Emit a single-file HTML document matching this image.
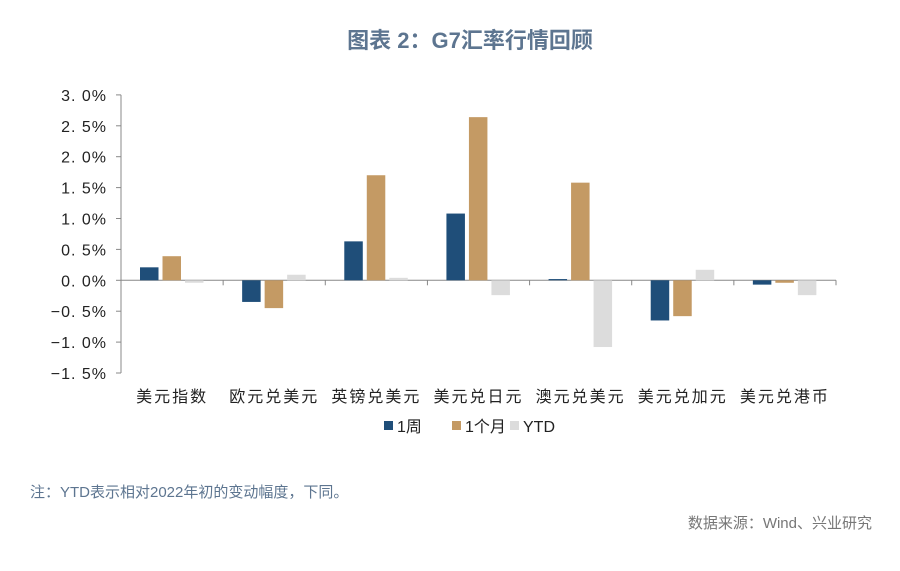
<!DOCTYPE html>
<html><head><meta charset="utf-8"><style>
body{margin:0;background:#fff;width:900px;height:566px;overflow:hidden;font-family:"Liberation Sans","Noto Sans CJK SC",sans-serif}
svg text{font-family:"Liberation Sans","Noto Sans CJK SC",sans-serif}
</style></head><body>
<svg width="900" height="566">
<text x="470" y="48" text-anchor="middle" font-size="22" font-weight="bold" fill="#5d7590">图表 2：G7汇率行情回顾</text>
<g id="plot"></g>
<text x="30" y="497" font-size="15" fill="#5d7590">注：YTD表示相对2022年初的变动幅度，下同。</text>
<text x="872" y="528" text-anchor="end" font-size="15" fill="#777">数据来源：Wind、兴业研究</text>
</svg>
<script>
const categories=["美元指数","欧元兑美元","英镑兑美元","美元兑日元","澳元兑美元","美元兑加元","美元兑港币"];
const week=[0.21,-0.35,0.63,1.08,0.02,-0.65,-0.07];
const month=[0.39,-0.45,1.70,2.64,1.58,-0.58,-0.04];
const ytd=[-0.04,0.09,0.04,-0.24,-1.08,0.17,-0.24];
const yTicks=[3.0,2.5,2.0,1.5,1.0,0.5,0.0,-0.5,-1.0,-1.5];
const seriesNames=["1周","1个月","YTD"];
const colors=["#1f4e79","#c49a64","#dcdcdc"];
const NS="http://www.w3.org/2000/svg";
const g=document.getElementById('plot');
const x0=121,x1=836,y0v=280.3,ppu=61.8;
const y=v=>y0v-v*ppu;
const cw=(x1-x0)/categories.length;
function mk(t,a){const e=document.createElementNS(NS,t);for(const k in a)e.setAttribute(k,a[k]);g.appendChild(e);return e;}
// y axis
let ax=mk('line',{x1:x0,y1:y(3),x2:x0,y2:y(-1.5),stroke:'#888','stroke-width':1});


yTicks.forEach(v=>{
 const t=mk('line',{x1:x0-5,y1:y(v),x2:x0,y2:y(v),stroke:'#888'});
 
 
 const l=mk('text',{x:x0-14,y:y(v)+6,'text-anchor':'end','font-size':16,fill:'#222','letter-spacing':'1'});
 
 
 l.textContent=(v<0?'−':'')+Math.abs(v).toFixed(1).replace('.','. ')+'%';
});
const xa=mk('line',{x1:x0,y1:y(0),x2:x1,y2:y(0),stroke:'#888'});


const all=[week,month,ytd];
categories.forEach((c,i)=>{
 const gx=x0+i*cw;
 const tk=mk('line',{x1:gx+cw,y1:y(0),x2:gx+cw,y2:y(0)+5,stroke:'#888'});
 
 
 all.forEach((s,j)=>{
  const v=s[i];
  const r=mk('rect',{x:gx+19+j*22.5,y:Math.min(y(v),y(0)),width:18.5,height:Math.max(1,Math.abs(y(v)-y(0))),fill:colors[j]});
  
  
 });
 const lb=mk('text',{x:gx+cw/2,y:402,'text-anchor':'middle','font-size':16,fill:'#222','letter-spacing':'2','font-family':'"Liberation Serif","Noto Serif CJK SC",serif'});
 
 
 lb.textContent=c;
});
const lx=[384,452,510];
seriesNames.forEach((n,j)=>{
 const s=mk('rect',{x:lx[j],y:421,width:9,height:9,fill:colors[j]});
 
 
 const t=mk('text',{x:lx[j]+13,y:432,'font-size':16,fill:'#222'});
 
 
 t.textContent=n;
});
</script>
</body></html>
